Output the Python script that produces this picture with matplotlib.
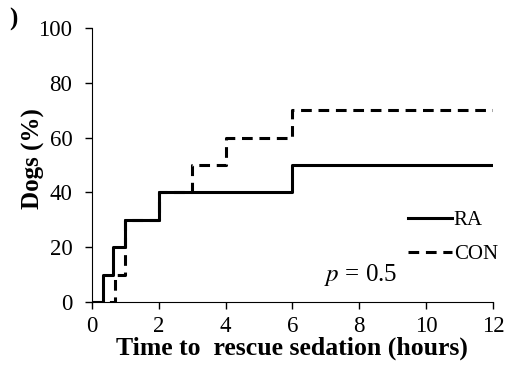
import matplotlib
matplotlib.use("Agg")
import matplotlib.pyplot as plt

# Kaplan-Meier style step data (hours, % dogs)
ra_time = [0, 0.33, 0.62, 1.0, 2.0, 6.0, 12.0]
ra_pct = [0, 10, 20, 30, 40, 50, 50]
con_time = [0, 0.68, 1.0, 2.0, 3.0, 4.0, 6.0, 12.0]
con_pct = [0, 10, 30, 40, 50, 60, 70, 70]

plt.rcParams['font.family'] = ['Liberation Serif', 'DejaVu Serif']
plt.rcParams['mathtext.fontset'] = 'stix'

fig = plt.figure(figsize=(5.05, 3.67), dpi=100)
ax = fig.add_axes([0.182, 0.177, 0.794, 0.747])

ax.step(con_time, con_pct, where='post', color='black', lw=2.2,
        linestyle=(0, (3.5, 2.2)), label='CON')
ax.step(ra_time, ra_pct, where='post', color='black', lw=2.2, label='RA')

ax.set_xlim(0, 12)
ax.set_ylim(0, 100)
ax.set_xticks(range(0, 13, 2))
ax.set_yticks(range(0, 101, 20))
ax.tick_params(direction='out', length=5, width=1, labelsize=16.5)
ax.tick_params(axis='x', pad=5)
ax.tick_params(axis='y', pad=9)
ax.spines['top'].set_visible(False)
ax.spines['right'].set_visible(False)

ax.set_xlabel('Time to  rescue sedation (hours)', fontsize=18.5, fontweight='bold', labelpad=0)
ax.set_ylabel('Dogs (%)', fontsize=18, fontweight='bold')
ax.yaxis.set_label_coords(-0.118, 0.525)

handles, labels = ax.get_legend_handles_labels()
ax.legend(handles[::-1], labels[::-1], frameon=False, fontsize=15,
          loc='upper left', bbox_to_anchor=(0.788, 0.334), borderaxespad=0,
          borderpad=0, handlelength=2.1, handletextpad=0.1, labelspacing=0.68)

ax.text(0.67, 0.10, r'$p$ = 0.5', transform=ax.transAxes, fontsize=18,
        ha='center', va='center')

fig.text(0.018, 0.93, ')', fontsize=18, fontweight='bold')

fig.savefig('out.png', dpi=100)
